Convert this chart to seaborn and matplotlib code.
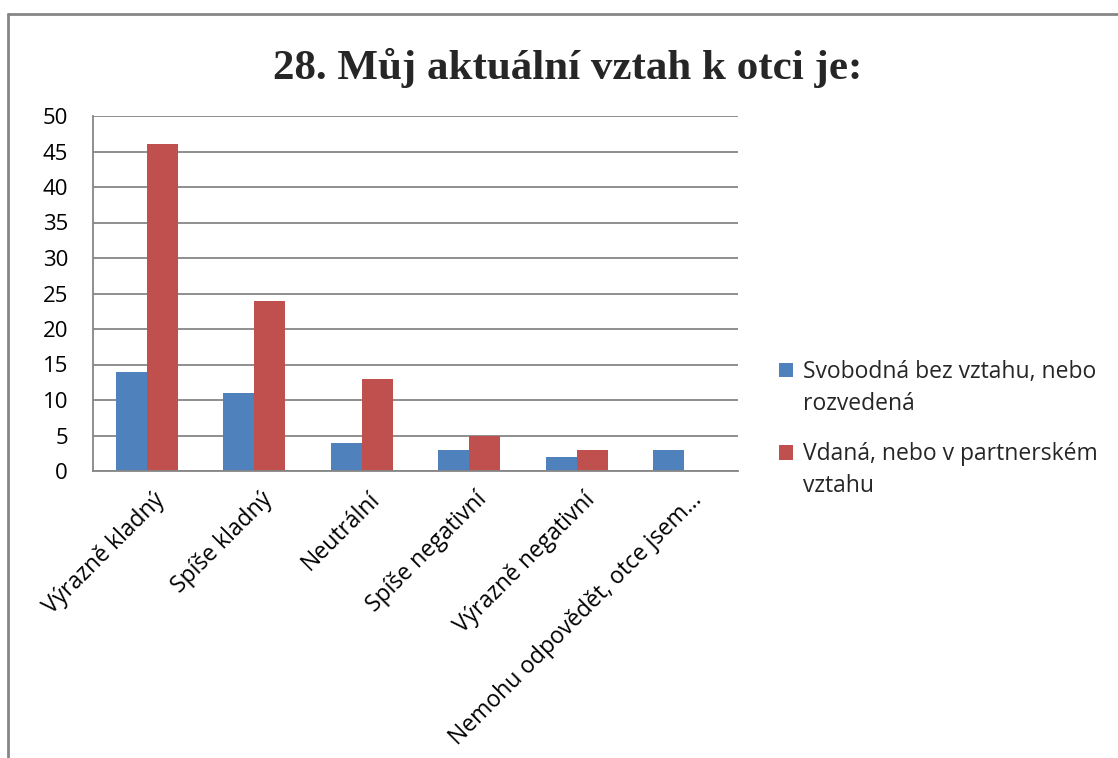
import matplotlib
matplotlib.use("Agg")
import matplotlib.pyplot as plt
import matplotlib.transforms as mtransforms
import seaborn as sns
import pandas as pd
from matplotlib.lines import Line2D

categories = ["Výrazně kladný", "Spíše kladný", "Neutrální", "Spíše negativní",
              "Výrazně negativní", "Nemohu odpovědět, otce jsem…"]
series_names = ["Svobodná bez vztahu, nebo rozvedená",
                "Vdaná, nebo v partnerském vztahu"]
values_single = [14, 11, 4, 3, 2, 3]
values_partner = [46, 24, 13, 5, 3, 0]
yticks = [0, 5, 10, 15, 20, 25, 30, 35, 40, 45, 50]
title = "28. Můj aktuální vztah k otci je:"
legend_first_lines = ["Svobodná bez vztahu, nebo", "Vdaná, nebo v partnerském"]
legend_second_lines = ["rozvedená", "vztahu"]

df = pd.DataFrame({
    "cat": categories * 2,
    "series": [series_names[0]] * len(categories) + [series_names[1]] * len(categories),
    "val": values_single + values_partner,
})

sns.set_theme(style="white")
plt.rcParams["font.family"] = ["Open Sans", "DejaVu Sans"]

fig = plt.figure(figsize=(11.18, 7.58), dpi=100)
ax = fig.add_axes([93 / 1118, 1 - 471 / 758, (738 - 93) / 1118, (471 - 116) / 758])

sns.barplot(data=df, x="cat", y="val", hue="series", order=categories,
            hue_order=series_names, palette=["#4F81BD", "#C0504D"],
            width=0.58, saturation=1, linewidth=0, ax=ax, legend=True)

ax.set_ylim(0, 50)
ax.set_yticks(yticks)
ax.set_xlim(-0.5, len(categories) - 0.5)
ax.grid(axis="y", color="#868686", linewidth=1.3)
ax.set_axisbelow(True)
for s in ["top", "right"]:
    ax.spines[s].set_visible(False)
ax.spines["left"].set_color("#868686")
ax.spines["bottom"].set_color("#868686")
ax.spines["left"].set_linewidth(1.3)
ax.spines["bottom"].set_linewidth(1.3)
ax.set_xlabel("")
ax.set_ylabel("")
ax.tick_params(axis="y", length=0, pad=18, labelsize=16, labelcolor="black")
ax.tick_params(axis="x", length=0, pad=7, labelsize=16.5, labelcolor="black")
offset = mtransforms.ScaledTranslation(6 / 100, -7 / 100, fig.dpi_scale_trans)
for lab in ax.get_xticklabels():
    lab.set_rotation(45)
    lab.set_ha("right")
    lab.set_va("top")
    lab.set_rotation_mode("anchor")
    lab.set_transform(lab.get_transform() + offset)

handles, labels = ax.get_legend_handles_labels()
ax.get_legend().remove()
leg = fig.legend(handles, legend_first_lines, loc="upper left",
                 bbox_to_anchor=(779 / 1118, 1 - 360 / 758), frameon=False,
                 fontsize=16.5, handlelength=0.6, handleheight=0.6,
                 handletextpad=0.45, labelspacing=2.55, borderaxespad=0,
                 borderpad=0)
second_texts = [fig.text(0, 0, s, fontsize=16.5, ha="left", va="baseline")
                for s in legend_second_lines]
fig.canvas.draw()
r = fig.canvas.get_renderer()
for t, txt in zip(leg.get_texts(), second_texts):
    bb = t.get_window_extent(r)
    xd, yd = t.get_transform().transform(t.get_position())
    txt.set_position((bb.x0 / fig.bbox.width, (yd - 32) / fig.bbox.height))

fig.text(568 / 1118, 1 - 68 / 758, title, ha="center", va="center",
         fontsize=31, fontweight="bold", family=["Liberation Serif", "DejaVu Serif"])

fig.add_artist(Line2D([8 / 1118, 1], [1 - 14 / 758, 1 - 14 / 758],
                      transform=fig.transFigure, color="#868686", linewidth=2))
fig.add_artist(Line2D([8 / 1118, 8 / 1118], [0, 1 - 14 / 758],
                      transform=fig.transFigure, color="#868686", linewidth=2))

fig.savefig("out.png", dpi=100)
